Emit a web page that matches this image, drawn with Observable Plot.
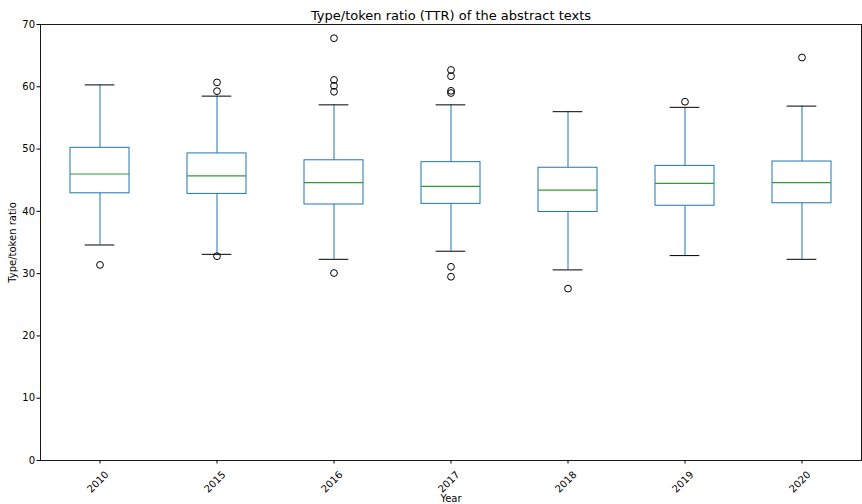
<!DOCTYPE html>
<html><head><meta charset="utf-8">
<script src="https://cdn.jsdelivr.net/npm/d3@7"></script>
<script src="https://cdn.jsdelivr.net/npm/@observablehq/plot@0.6"></script>
<style>body{margin:0;background:#fff}</style>
</head><body><div id="chart"></div>
<script>
const years = ["2010","2015","2016","2017","2018","2019","2020"];
const whiskerLow  = [34.6, 33.1, 32.3, 33.6, 30.6, 32.9, 32.3];
const q1          = [42.9, 42.8, 41.1, 41.2, 39.9, 40.9, 41.3];
const median      = [46.0, 45.7, 44.6, 44.0, 43.4, 44.5, 44.6];
const q3          = [50.2, 49.3, 48.2, 47.9, 47.0, 47.3, 48.0];
const whiskerHigh = [60.3, 58.5, 57.1, 57.1, 56.0, 56.7, 56.9];
const outliers = [
  [31.4],
  [60.7, 59.3, 32.8],
  [67.8, 61.1, 60.15, 59.2, 30.1],
  [62.7, 61.7, 59.35, 59.0, 31.1, 29.5],
  [27.6],
  [57.6],
  [64.7]
];
const yTicks = [0, 10, 20, 30, 40, 50, 60, 70];
const title = "Type/token ratio (TTR) of the abstract texts";
const xLabel = "Year";
const yLabel = "Type/token ratio";

const stats = years.map((year, i) => ({
  year, lo: whiskerLow[i], q1: q1[i], med: median[i], q3: q3[i], hi: whiskerHigh[i]
}));
const outlierRows = years.flatMap((year, i) => outliers[i].map(v => ({year, v})));

const W = 862, H = 504, mL = 40, mR = 1, mT = 24, mB = 44;
const step = (W - mL - mR) / years.length;
const capInset = step / 2 / 4;

const blue = "#1f77b4", green = "#2ca02c";

const chart = Plot.plot({
  width: W, height: H,
  marginLeft: mL, marginRight: mR, marginTop: mT, marginBottom: mB,
  style: {fontFamily: "DejaVu Sans", fontSize: "10px", background: "#fff", color: "#000"},
  x: {domain: years, paddingInner: 0.5, paddingOuter: 0.25, align: 0.5},
  y: {domain: [0, 70]},
  marks: [
    Plot.frame({stroke: "#000", strokeWidth: 0.9}),
    Plot.axisY({ticks: yTicks, tickSize: 3.5, tickPadding: 2, label: yLabel, labelAnchor: "center", labelArrow: "none", labelOffset: 32, fontSize: 10}),
    Plot.axisX({tickSize: 3.5, text: null, label: null}),
    Plot.axisX({tickSize: 0, tickRotate: -45, tickPadding: 7.5, dx: 7, dy: 5, label: null, fontSize: 10}),
    Plot.axisX({ticks: [], tickSize: 0, label: xLabel, labelAnchor: "center", labelArrow: "none", labelOffset: 41, fontSize: 10}),
    Plot.ruleX(stats, {x: "year", y1: "q3", y2: "hi", stroke: blue, strokeWidth: 1}),
    Plot.ruleX(stats, {x: "year", y1: "lo", y2: "q1", stroke: blue, strokeWidth: 1}),
    Plot.tickY(stats, {x: "year", y: "hi", stroke: "#000", strokeWidth: 1, inset: capInset}),
    Plot.tickY(stats, {x: "year", y: "lo", stroke: "#000", strokeWidth: 1, inset: capInset}),
    Plot.barY(stats, {x: "year", y1: "q1", y2: "q3", fill: "none", stroke: blue, strokeWidth: 1}),
    Plot.tickY(stats, {x: "year", y: "med", stroke: green, strokeWidth: 1.2}),
    Plot.dot(outlierRows, {x: "year", y: "v", r: 3.4, stroke: "#000", strokeWidth: 1, fill: "none"}),
    Plot.text([title], {frameAnchor: "top", dy: -14, fontSize: 13, fill: "#000"})
  ]
});
document.getElementById("chart").appendChild(chart);
</script>
</body></html>
